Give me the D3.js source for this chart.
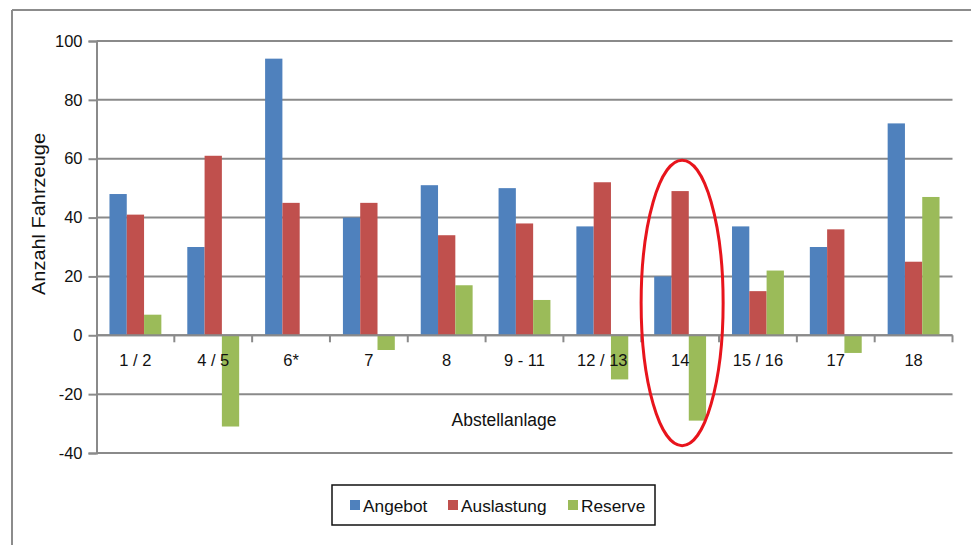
<!DOCTYPE html>
<html><head><meta charset="utf-8">
<script src="https://cdn.jsdelivr.net/npm/d3@7/dist/d3.min.js"></script>
<style>html,body{margin:0;padding:0;background:#fff;}svg{display:block;font-family:"Liberation Sans",Arial,sans-serif;}</style>
</head><body>
<script>
const categories = ["1 / 2","4 / 5","6*","7","8","9 - 11","12 / 13","14","15 / 16","17","18"];
const angebot    = [48, 30, 94, 40, 51, 50, 37, 20, 37, 30, 72];
const auslastung = [41, 61, 45, 45, 34, 38, 52, 49, 15, 36, 25];
const reserve    = [7, -31, 0, -5, 17, 12, -15, -29, 22, -6, 47];
const seriesNames = ["Angebot","Auslastung","Reserve"];
const seriesColors = ["#4F81BD","#C0504D","#9BBB59"];
const yTicks = [-40,-20,0,20,40,60,80,100];
const highlight = "14";

(function(){
const W = 971, H = 545;
const svg = d3.select("body").append("svg").attr("width", W).attr("height", H);

// outer frame (top and left edges visible)
svg.append("line").attr("x1",12).attr("x2",W).attr("y1",10).attr("y2",10).attr("stroke","#8c8c8c").attr("stroke-width",2);
svg.append("line").attr("x1",12).attr("x2",12).attr("y1",10).attr("y2",H).attr("stroke","#8c8c8c").attr("stroke-width",2);

const pLeft = 96.5, pRight = 952.5, pTop = 41, pBottom = 453;
const x = d3.scaleBand().domain(categories).range([pLeft, pRight]).padding(0);
const y = d3.scaleLinear().domain([-40, 100]).range([pBottom, pTop]);
const xs = d3.scaleBand().domain(seriesNames).range([0, x.bandwidth()]).paddingInner(0).paddingOuter(0.75);

const gridColor = "#8a8a8a";
svg.append("g").selectAll("line").data(yTicks).join("line")
  .attr("x1", pLeft).attr("x2", pRight)
  .attr("y1", d => y(d)).attr("y2", d => y(d))
  .attr("stroke", gridColor).attr("stroke-width", 2);

const yAxis = svg.append("g").attr("transform", `translate(${pLeft},0)`)
  .call(d3.axisLeft(y).tickValues(yTicks).tickSize(8).tickPadding(6).tickFormat(d => String(d)));
yAxis.select(".domain").attr("stroke", gridColor).attr("stroke-width", 2);
yAxis.selectAll(".tick line").attr("stroke", gridColor).attr("stroke-width", 2);
yAxis.selectAll("text").attr("font-size", 16.5).attr("fill", "#111").attr("font-family", "Liberation Sans, Arial, sans-serif");

const data = categories.map((c, i) => ({c, vals: [angebot[i], auslastung[i], reserve[i]]}));
const groups = svg.append("g").selectAll("g").data(data).join("g")
  .attr("transform", d => `translate(${x(d.c)},0)`);
groups.selectAll("rect").data(d => d.vals.map((v, k) => ({v, k})))
  .join("rect")
  .attr("x", d => xs(seriesNames[d.k]))
  .attr("width", xs.bandwidth())
  .attr("y", d => y(Math.max(0, d.v)))
  .attr("height", d => Math.abs(y(d.v) - y(0)))
  .attr("fill", d => seriesColors[d.k]);

svg.append("line").attr("x1", pLeft).attr("x2", pRight).attr("y1", y(0)).attr("y2", y(0))
  .attr("stroke", gridColor).attr("stroke-width", 2);
const bounds = categories.map(c => x(c)).concat([pRight]).slice(1);
svg.append("g").selectAll("line").data(bounds).join("line")
  .attr("x1", d => d).attr("x2", d => d)
  .attr("y1", y(0)).attr("y2", y(0) + 7)
  .attr("stroke", gridColor).attr("stroke-width", 2);
svg.append("g").selectAll("text").data(categories).join("text")
  .attr("x", d => x(d) + x.bandwidth() / 2)
  .attr("y", y(0) + 31)
  .attr("text-anchor", "middle")
  .attr("font-size", 16.5).attr("fill", "#111")
  .text(d => d);

svg.append("text").attr("x", 504).attr("y", 426).attr("text-anchor", "middle")
  .attr("font-size", 18).attr("fill", "#111")
  .attr("textLength", 105).attr("lengthAdjust", "spacingAndGlyphs").text("Abstellanlage");
svg.append("text").attr("transform", "translate(45,214) rotate(-90)").attr("text-anchor", "middle")
  .attr("font-size", 18).attr("fill", "#111")
  .attr("textLength", 162).attr("lengthAdjust", "spacingAndGlyphs").text("Anzahl Fahrzeuge");

const hx = x(highlight) + x.bandwidth() / 2 + 2;
const yT = y(59.5), yB = y(-37.5);
svg.append("ellipse").attr("cx", hx).attr("cy", (yT + yB) / 2)
  .attr("rx", 41).attr("ry", (yB - yT) / 2)
  .attr("fill", "none").attr("stroke", "#e8141c").attr("stroke-width", 3);

const lg = svg.append("g");
lg.append("rect").attr("x", 332).attr("y", 485).attr("width", 323).attr("height", 40)
  .attr("fill", "#fff").attr("stroke", "#111").attr("stroke-width", 1.5);
const legX = [350, 448, 568];
seriesNames.forEach((s, k) => {
  lg.append("rect").attr("x", legX[k]).attr("y", 500).attr("width", 10).attr("height", 10).attr("fill", seriesColors[k]);
  lg.append("text").attr("x", legX[k] + 13).attr("y", 511.5).attr("font-size", 17.3).attr("fill", "#111").text(s);
});
})();
</script>
</body></html>
